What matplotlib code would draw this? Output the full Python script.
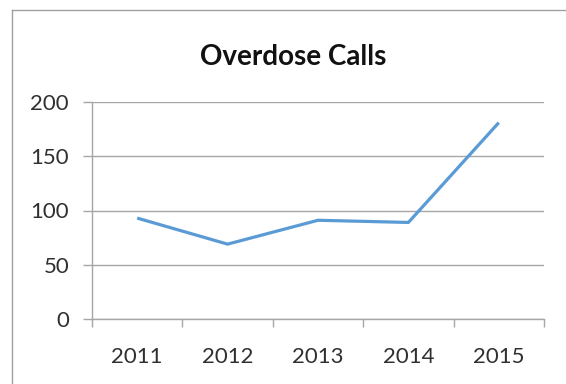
import matplotlib
matplotlib.use("Agg")
import matplotlib.pyplot as plt
from matplotlib.lines import Line2D

years = ["2011", "2012", "2013", "2014", "2015"]
calls = [93, 69, 91, 89, 181]
yticks = [0, 50, 100, 150, 200]

plt.rcParams['font.family'] = ['Lato', 'DejaVu Sans']

W, H = 566, 384
fig = plt.figure(figsize=(W / 100, H / 100), dpi=100)
ax = fig.add_axes([92 / W, 1 - 319 / H, (544 - 92) / W, (319 - 102) / H])

grid_c = '#a6a6a6'
text_c = '#303030'

x = list(range(len(years)))
ax.plot(x, calls, color='#5B9BD5', lw=2.3, solid_capstyle='butt', zorder=3)

ax.set_xlim(-0.5, len(years) - 0.5)
ax.set_ylim(0, 200)
ax.set_yticks(yticks)
ax.set_yticklabels([str(v) for v in yticks])
ax.set_xticks(x)
ax.set_xticklabels(years)
ax.set_xticks([i + 0.5 for i in range(-1, len(years))], minor=True)

ax.grid(axis='y', color=grid_c, lw=1.0, zorder=0)
for s in ['top', 'right']:
    ax.spines[s].set_visible(False)
for s in ['left', 'bottom']:
    ax.spines[s].set_color(grid_c)
    ax.spines[s].set_linewidth(1.0)

ax.tick_params(axis='x', which='major', length=0, pad=20, labelsize=16, labelcolor=text_c)
ax.tick_params(axis='x', which='minor', length=6, width=1.0, color=grid_c, direction='out')
ax.tick_params(axis='y', which='major', length=6.5, width=1.0, color=grid_c, pad=10,
               labelsize=16, labelcolor=text_c)

fig.text(293 / W, 1 - 57 / H, "Overdose Calls", ha='center', va='center',
         fontsize=20, fontweight='bold', color='#111111')

frame_c = '#a0a0a0'
fig.add_artist(Line2D([12 / W, 12 / W], [0, 1 - 10 / H], color=frame_c, lw=1.0,
                      transform=fig.transFigure))
fig.add_artist(Line2D([12 / W, 1], [1 - 10 / H, 1 - 10 / H], color=frame_c, lw=1.0,
                      transform=fig.transFigure))

fig.savefig("out.png", dpi=100)
